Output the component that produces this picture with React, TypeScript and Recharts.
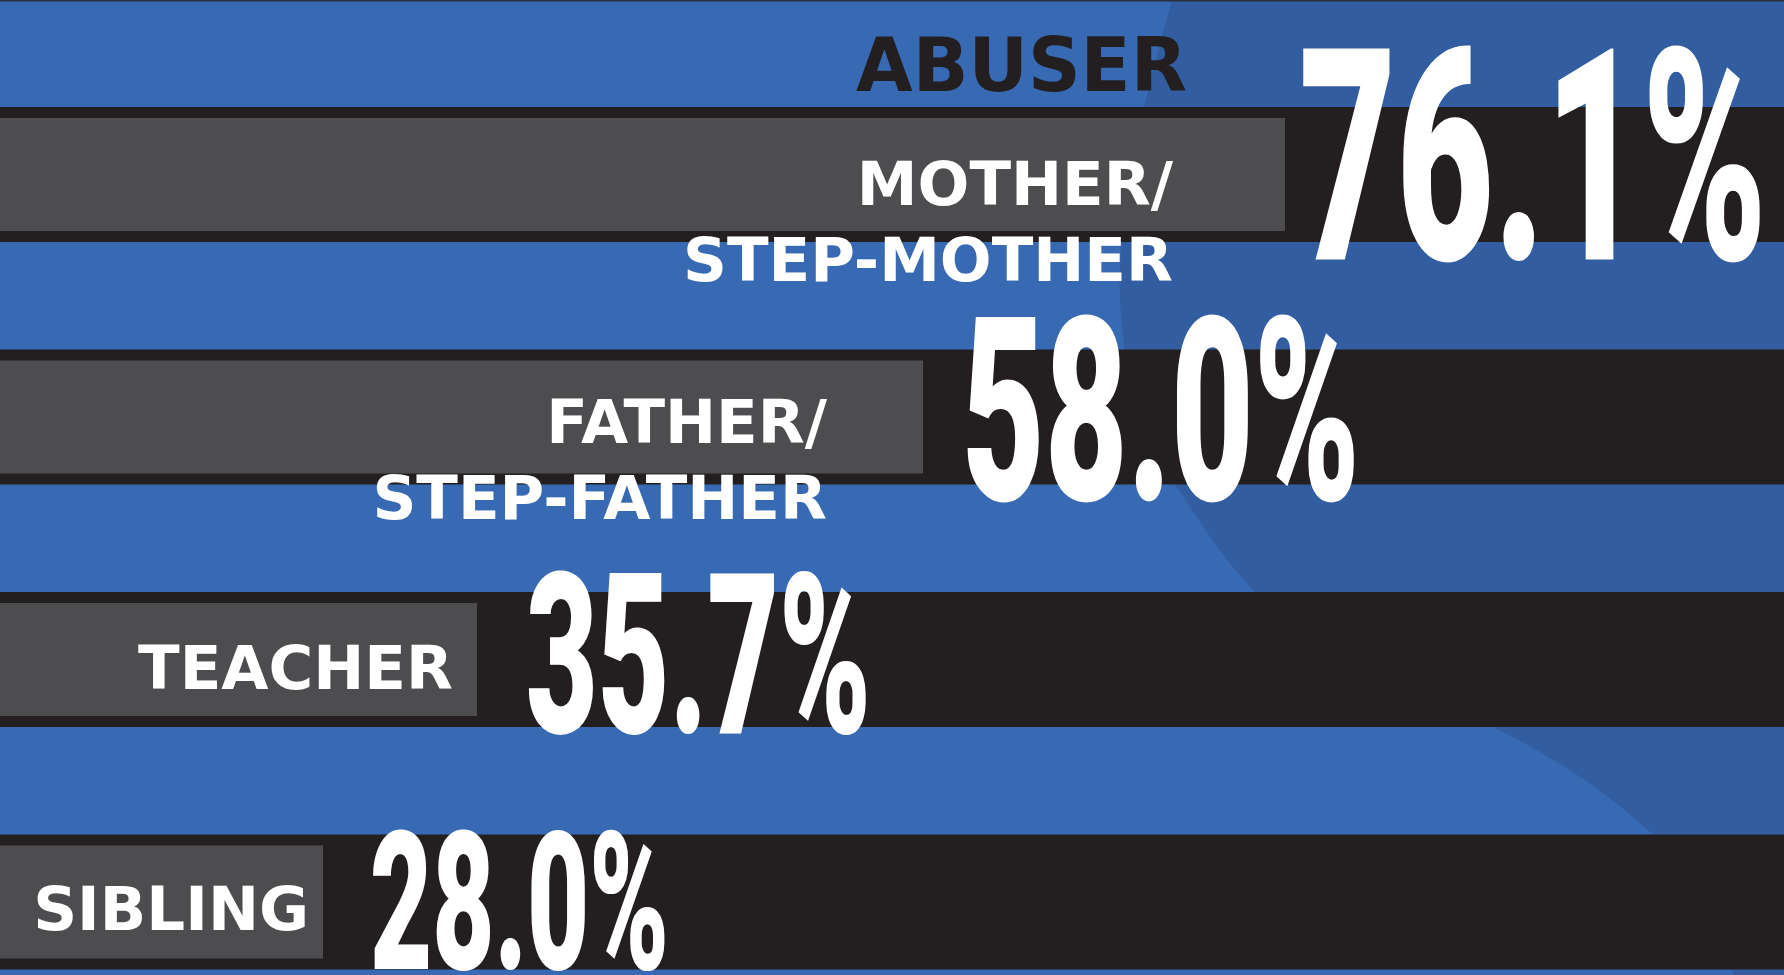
import { BarChart, Bar, XAxis, YAxis, LabelList } from "recharts"

const categories = ["MOTHER/\nSTEP-MOTHER", "FATHER/\nSTEP-FATHER", "TEACHER", "SIBLING"]
const percentages = [76.1, 58.0, 35.7, 28.0]
const axisTitle = "ABUSER"

const W = 1784
const H = 975

const BLUE = "#376ab3"
const BLUE_DARK = "#325ea1"
const BAND = "#231f20"
const BAR = "#4d4d4f"

// look of the big percentage numbers, top row first
const valueLook = [
  { h: 211, w: 468, gap: 14, base: 85 },
  { h: 183, w: 398, gap: 39, base: 83 },
  { h: 160, w: 345, gap: 49, base: 73 },
  { h: 137, w: 299, gap: 47, base: 67 },
]
// right inset of the category text from the bar end, and baseline below bar centre
const labelLook = [
  { inset: 112, base: 30 },
  { inset: 96, base: 26 },
  { inset: 24, base: 29 },
  { inset: 14, base: 28 },
]

const chartData = categories.map((name, i) => ({ name, value: percentages[i] }))

function BandBar(props: any) {
  const { x, y, width, height } = props
  return (
    <g>
      <rect x={0} y={y - 11} width={W} height={height + 22} fill={BAND} />
      <rect x={x} y={y} width={width} height={height} fill={BAR} />
    </g>
  )
}

function CategoryLabel(props: any) {
  const { x, y, width, height, value, index } = props
  const look = labelLook[index] || labelLook[labelLook.length - 1]
  const lines = String(value).split("\n")
  const right = x + width - look.inset
  const base = y + height / 2 + look.base
  return (
    <text
      textAnchor="end"
      fill="#ffffff"
      fontFamily="'DejaVu Sans', Inter, sans-serif"
      fontWeight={700}
      fontSize={61}
    >
      {lines.map((line, i) => (
        <tspan key={i} x={right} y={base + i * 76}>
          {line}
        </tspan>
      ))}
    </text>
  )
}

function ValueLabel(props: any) {
  const { x, y, width, height, value, index } = props
  const look = valueLook[index] || valueLook[valueLook.length - 1]
  return (
    <text
      x={x + width + look.gap}
      y={y + height / 2 + look.base}
      fill="#ffffff"
      fontFamily="Roboto, 'DejaVu Sans', sans-serif"
      fontWeight={900}
      fontSize={look.h / 0.711}
      textLength={look.w}
      lengthAdjust="spacingAndGlyphs"
    >
      {`${Number(value).toFixed(1)}%`}
    </text>
  )
}

export default function App() {
  return (
    <div style={{ position: "absolute", left: 0, top: 0, width: W, height: H, overflow: "hidden", background: BLUE }}>
      <svg width={W} height={H} style={{ position: "absolute", left: 0, top: 0 }}>
        <rect x={0} y={0} width={W} height={H} fill={BLUE} />
        <path
          d="M1172,0 C1150,80 1116,200 1120,300 C1124,390 1150,450 1180,492 C1205,530 1228,565 1257,594 C1330,650 1420,690 1495,728 C1560,760 1610,795 1650,832 C1690,870 1715,930 1734,975 L1784,975 L1784,0 Z"
          fill={BLUE_DARK}
        />
        <rect x={0} y={0} width={W} height={1.5} fill="#2b2f3d" />
        <text
          x={1187}
          y={91}
          textAnchor="end"
          fill={BAND}
          fontFamily="'DejaVu Sans', Inter, sans-serif"
          fontWeight={700}
          fontSize={74}
          textLength={331}
          lengthAdjust="spacingAndGlyphs"
        >
          {axisTitle}
        </text>
      </svg>
      <div style={{ position: "absolute", left: 0, top: 0 }}>
        <BarChart
          width={W}
          height={1023}
          data={chartData}
          layout="vertical"
          margin={{ top: 53, right: 0, bottom: 0, left: 0 }}
        >
          <XAxis type="number" domain={[11.85, 101.05]} allowDataOverflow hide />
          <YAxis type="category" dataKey="name" hide />
          <Bar dataKey="value" barSize={113} isAnimationActive={false} shape={BandBar}>
            <LabelList dataKey="name" content={CategoryLabel} />
            <LabelList dataKey="value" content={ValueLabel} />
          </Bar>
        </BarChart>
      </div>
    </div>
  )
}
